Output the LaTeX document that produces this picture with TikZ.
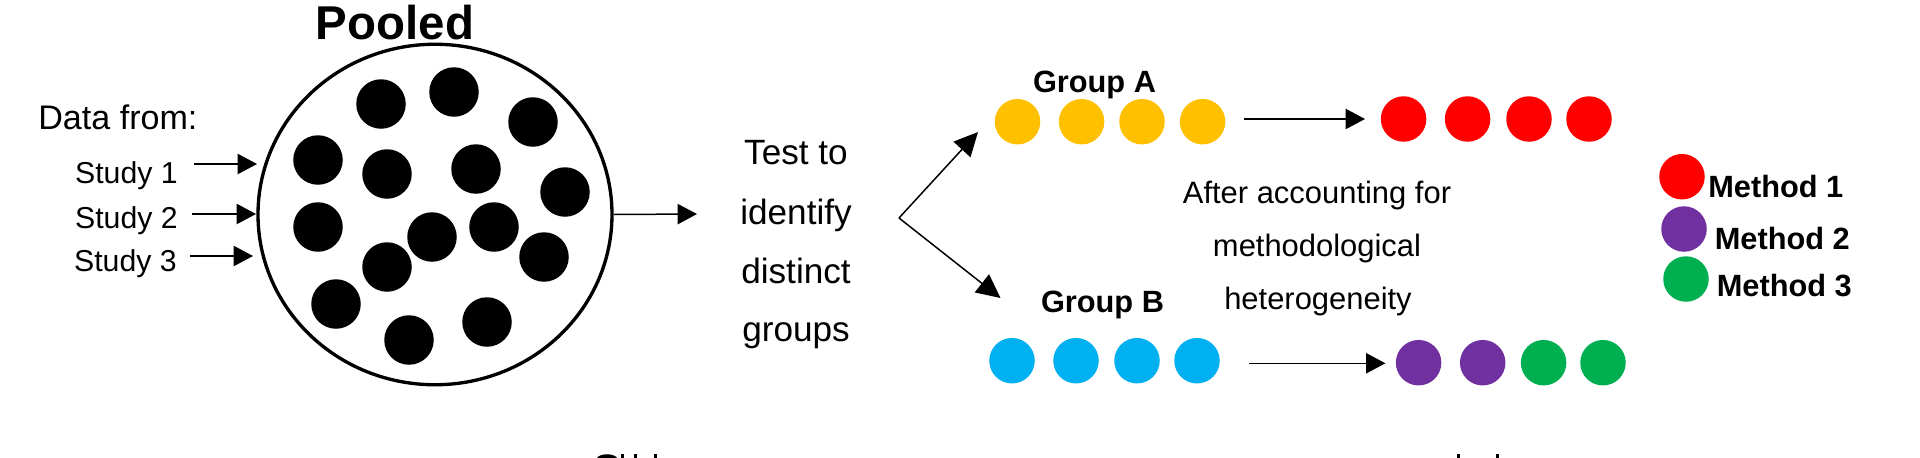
\documentclass[tikz,border=0pt]{standalone}
\usepackage{fontspec}
\setmainfont{Liberation Sans}
\usetikzlibrary{arrows.meta,shapes.geometric}
\definecolor{groupa}{HTML}{FFC000}
\definecolor{groupb}{HTML}{00B0F0}
\definecolor{methodone}{HTML}{FF0000}
\definecolor{methodtwo}{HTML}{7030A0}
\definecolor{methodthree}{HTML}{00B050}
\tikzset{
    dot/.style={circle, inner sep=0pt, minimum size=9.1mm},
    blackdot/.style={dot, fill=black, minimum size=9.9mm},
    flow/.style={-{Triangle[length=11pt,width=11.5pt]}, line width=0.85pt, black},
    forkflow/.style={-{Triangle[length=13.5pt,width=13pt]}, line width=0.85pt, black},
    big/.style={anchor=base, inner sep=0pt, font=\bfseries\fontsize{27}{27}\selectfont},
    main/.style={anchor=base, inner sep=0pt, font=\fontsize{20}{20}\selectfont},
    study/.style={anchor=base east, inner sep=0pt, font=\fontsize{17.2}{17.2}\selectfont},
    after/.style={anchor=base, inner sep=0pt, font=\fontsize{17.6}{17.6}\selectfont},
    label/.style={anchor=base west, inner sep=0pt, font=\bfseries\fontsize{17.5}{17.5}\selectfont},
}
\begin{document}
\begin{tikzpicture}[x=0.2mm,y=-0.2mm]
        \useasboundingbox (0,0) rectangle (1920,458);

        \node[ellipse, draw, line width=1.9pt, inner sep=0pt, minimum width=70.8mm, minimum height=68.1mm] (pool) at (435,214.5) {};
        \foreach \x/\y [count=\i] in {381/104,454/92,533/122,318/160,387/174,476/169,565/192,318/227,494/227,432/237,544/257,387/267,336/304,409/340,487/322} {
            \node[blackdot] (pooldot\i) at (\x,\y) {};
        }

        \node[big] (pooled) at (395,39) {Pooled};
        \node[main, anchor=base west, font=\fontsize{19.4}{19.4}\selectfont] (datafrom) at (38,129) {Data from:};
        \node[study] (study1) at (178,183) {Study 1};
        \node[study] (study2) at (178,228) {Study 2};
        \node[study] (study3) at (177,271) {Study 3};

        \coordinate (in1a) at (194,164);
        \coordinate (in1b) at (257,164);
        \coordinate (in2a) at (192,214);
        \coordinate (in2b) at (256,214);
        \coordinate (in3a) at (190,256);
        \coordinate (in3b) at (253,256);
        \coordinate (outb) at (697,214);
        \draw[flow] (in1a) -- (in1b);
        \draw[flow] (in2a) -- (in2b);
        \draw[flow] (in3a) -- (in3b);
        \draw[flow] (pool.east) -- (outb);

        \node[main] (test1) at (796,164) {Test to};
        \node[main] (test2) at (796,224) {identify};
        \node[main] (test3) at (796,283) {distinct};
        \node[main] (test4) at (796,341) {groups};

        \coordinate (fork) at (899,218);
        \coordinate (forka) at (978,132);
        \coordinate (forkb) at (1000.5,298);
        \draw[forkflow] (fork) -- (forka);
        \draw[forkflow] (fork) -- (forkb);

        \node[label, anchor=base] (groupA) at (1094.5,92.7) {Group A};
        \node[label, anchor=base] (groupB) at (1102.5,312) {Group B};

        \foreach \x [count=\i] in {1017.5,1081.6,1142,1202.6} {
            \node[dot, fill=groupa] (a\i) at (\x,121.7) {};
        }
        \foreach \x [count=\i] in {1012,1076,1137,1197} {
            \node[dot, fill=groupb] (b\i) at (\x,360.7) {};
        }
        \foreach \x [count=\i] in {1403.6,1467.6,1529,1589} {
            \node[dot, fill=methodone] (r\i) at (\x,119) {};
        }
        \node[dot, fill=methodtwo] (m1) at (1418.6,362.7) {};
        \node[dot, fill=methodtwo] (m2) at (1482.7,362.7) {};
        \node[dot, fill=methodthree] (m3) at (1543.6,362.7) {};
        \node[dot, fill=methodthree] (m4) at (1603,362.7) {};

        \coordinate (topa) at (1244,119);
        \coordinate (topb) at (1365,119);
        \coordinate (lowa) at (1249,363.3);
        \coordinate (lowb) at (1385.4,363.3);
        \draw[flow] (topa) -- (topb);
        \draw[flow] (lowa) -- (lowb);

        \node[after] (after1) at (1317,203) {After accounting for};
        \node[after] (after2) at (1317,256) {methodological};
        \node[after] (after3) at (1318,309) {heterogeneity};

        \node[dot, fill=methodone] (key1) at (1682,176.7) {};
        \node[dot, fill=methodtwo] (key2) at (1684,229) {};
        \node[dot, fill=methodthree] (key3) at (1686,279) {};
        \node[label] (method1) at (1708,197.7) {Method 1};
        \node[label] (method2) at (1714.5,249) {Method 2};
        \node[label] (method3) at (1716.5,296) {Method 3};

        % cut-off tops along the bottom edge
        \fill (597,458) .. controls (600,453) and (614,453) .. (617,458) -- cycle;
        \foreach \x in {622,635,655,1458,1497} {
            \fill (\x-1.5,454) rectangle ++(3,4);
        }
    \end{tikzpicture}
\end{document}
